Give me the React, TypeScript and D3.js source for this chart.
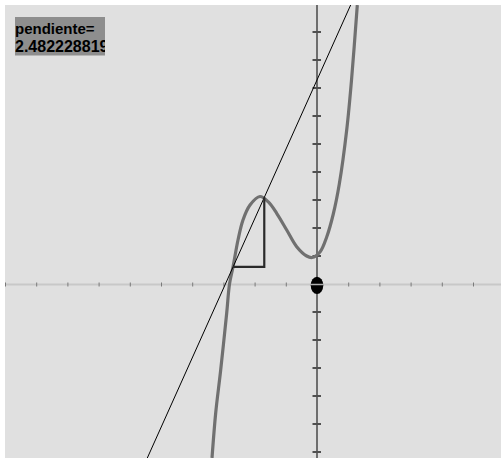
import React from "react";
import * as d3 from "d3";

// Curve samples (math units: x tick = 1, y tick = 1)
const curveX = [-3.365, -3.247, -3.087, -2.894, -2.804, -2.692, -2.532, -2.372, -2.147, -1.827, -1.56, -1.292, -0.971, -0.651, -0.33, -0.16, 0.096, 0.311, 0.522, 0.715, 0.952, 1.112, 1.292];
const curveY = [-6.214, -4.607, -3.071, -1.036, 0, 0.607, 1.571, 2.286, 2.821, 3.125, 2.93, 2.525, 1.929, 1.332, 1.0, 0.946, 1.143, 1.679, 2.5, 3.571, 5.5, 7.36, 9.964];

const xTicks = [-10, -9, -8, -7, -6, -5, -4, -3, -2, -1, 1, 2, 3, 4, 5];
const yTicks = [-6, -5, -4, -3, -2, -1, 1, 2, 3, 4, 5, 6, 7, 8, 9, 10];

const slopeLabel = "pendiente=";
const slopeValue = 2.482228819;
const linePoint = [-2.69, 0.61];
const pointAt = [0, 0];

const W = 501;
const H = 458;
const L = 5, T = 5;

export default function App() {
  const x = d3.scaleLinear().domain([-10, 6]).range([5, 5 + 16 * 31.2]);
  const y = d3.scaleLinear().domain([-7, 10]).range([284 + 7 * 28, 284 - 10 * 28]);
  const x0 = x(0);
  const y0 = y(0);

  const pts: [number, number][] = curveX.map((v, i) => [v, curveY[i]]);
  const line = d3
    .line<[number, number]>()
    .x((d) => x(d[0]))
    .y((d) => y(d[1]))
    .curve(d3.curveCatmullRom.alpha(0.5));

  const [px, py] = linePoint;
  const xa = -12, xb = 8;
  const tl: [number, number][] = [
    [xa, py + slopeValue * (xa - px)],
    [xb, py + slopeValue * (xb - px)],
  ];
  const tri: [number, number][] = [
    [px, py],
    [px + 1, py],
    [px + 1, py + slopeValue],
  ];
  const straight = d3
    .line<[number, number]>()
    .x((d) => x(d[0]))
    .y((d) => y(d[1]));

  const font = "'Liberation Sans', Arial, sans-serif";

  return (
    <div style={{ position: "absolute", left: 0, top: 0 }}>
      <svg width={W} height={H} style={{ display: "block", background: "#ffffff" }}>
        <defs>
          <clipPath id="plot">
            <rect x={L} y={T} width={W - L} height={H - T} />
          </clipPath>
          <clipPath id="box">
            <rect x={15} y={17} width={90} height={38.5} />
          </clipPath>
        </defs>
        <rect x={L} y={T} width={W - L} height={H - T} fill="#e0e0e0" />
        <g clipPath="url(#plot)">
          {/* horizontal axis */}
          <line x1={L} x2={W} y1={y0 + 0.5} y2={y0 + 0.5} stroke="#c8c8c8" strokeWidth={2} />
          {xTicks.map((t) => (
            <line key={"xt" + t} x1={x(t) + 0.5} x2={x(t) + 0.5} y1={y0 - 1.5} y2={y0 + 2.5} stroke="#7a7a7a" strokeWidth={1} />
          ))}
          {/* vertical axis */}
          <line x1={x0} x2={x0} y1={T} y2={H} stroke="#6e6e6e" strokeWidth={2} />
          {yTicks.map((t) => (
            <line key={"yt" + t} x1={x0 - 4.5} x2={x0 + 4} y1={y(t)} y2={y(t)} stroke="#505050" strokeWidth={2} />
          ))}
          {/* curve */}
          <path d={line(pts) || ""} fill="none" stroke="#707070" strokeWidth={3.2} strokeLinejoin="round" />
          {/* secant / tangent line */}
          <path d={straight(tl) || ""} fill="none" stroke="#000000" strokeWidth={1} />
          {/* slope triangle */}
          <path d={straight(tri) || ""} fill="none" stroke="#2a2a2a" strokeWidth={2.2} />
          {/* point */}
          <ellipse cx={x(pointAt[0])} cy={y(pointAt[1]) + 1.3} rx={6.3} ry={8.6} fill="#000000" />
          <line x1={x0 - 7} x2={x0 + 7} y1={y0 + 0.5} y2={y0 + 0.5} stroke="#b0b0b0" strokeWidth={1.5} />
        </g>
        {/* slope label */}
        <rect x={15} y={17} width={90} height={38.5} fill="#8e8e8e" />
        <g clipPath="url(#box)">
          <text x={15} y={33.5} fontFamily={font} fontWeight="bold" fontSize={15} fill="#000">
            {slopeLabel}
          </text>
          <text x={15} y={51.5} fontFamily={font} fontWeight="bold" fontSize={16} fill="#000">
            {String(slopeValue)}
          </text>
        </g>
      </svg>
    </div>
  );
}
